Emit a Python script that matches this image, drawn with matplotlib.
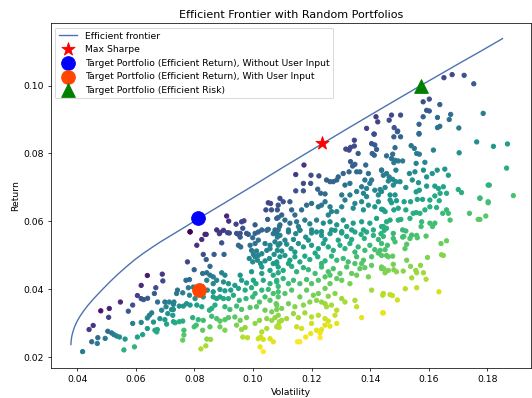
import numpy as np
import matplotlib
matplotlib.use("Agg")
import matplotlib.pyplot as plt

# efficient frontier curve (volatility, return)
frontier_vol = [0.0378, 0.0379, 0.0381, 0.0385, 0.0391, 0.0399, 0.0409, 0.0421,
                0.0436, 0.0455, 0.0480, 0.0512, 0.0540, 0.0569, 0.0597, 0.0625,
                0.0654, 0.0682, 0.0728, 0.0770, 0.0813, 0.0900, 0.1000, 0.1100,
                0.1235, 0.1330, 0.1450, 0.1573, 0.1700, 0.1780, 0.1852]
frontier_ret = [0.0238, 0.0250, 0.0262, 0.0276, 0.0291, 0.0306, 0.0321, 0.0336,
                0.0353, 0.0372, 0.0395, 0.0423, 0.0446, 0.0468, 0.0488, 0.0506,
                0.0523, 0.0539, 0.0563, 0.0585, 0.0608, 0.0653, 0.0705, 0.0758,
                0.0828, 0.0877, 0.0938, 0.1000, 0.1063, 0.1102, 0.1138]

# special portfolios
max_sharpe = (0.1235, 0.0831)
target_no_input = (0.0813, 0.0609)
target_with_input = (0.0816, 0.0397)
target_risk = (0.1573, 0.1000)

# random portfolios (volatility, return), grouped by chart region
pts_low_left = [
    (0.0639, 0.0441), (0.0690, 0.0445), (0.0692, 0.0425), (0.0618, 0.0412), (0.0668, 0.0405),
    (0.0605, 0.0382), (0.0618, 0.0373), (0.0626, 0.0370), (0.0640, 0.0374), (0.0663, 0.0388),
    (0.0547, 0.0363), (0.0589, 0.0354), (0.0574, 0.0336), (0.0509, 0.0344), (0.0480, 0.0337),
    (0.0507, 0.0318), (0.0454, 0.0294), (0.0440, 0.0282), (0.0449, 0.0246), (0.0468, 0.0241),
    (0.0470, 0.0258), (0.0495, 0.0256), (0.0504, 0.0277), (0.0517, 0.0272), (0.0525, 0.0267),
    (0.0534, 0.0263), (0.0544, 0.0260), (0.0563, 0.0254), (0.0605, 0.0260), (0.0623, 0.0267),
    (0.0589, 0.0300), (0.0618, 0.0303), (0.0639, 0.0316), (0.0646, 0.0324), (0.0654, 0.0331),
    (0.0639, 0.0285), (0.0660, 0.0304), (0.0665, 0.0280), (0.0673, 0.0282), (0.0671, 0.0275),
    (0.0674, 0.0363), (0.0699, 0.0363), (0.0714, 0.0363), (0.0728, 0.0356), (0.0703, 0.0349),
    (0.0728, 0.0341), (0.0688, 0.0339), (0.0709, 0.0329), (0.0682, 0.0314), (0.0699, 0.0311),
    (0.0705, 0.0298), (0.0728, 0.0305), (0.0726, 0.0324),
    (0.0418, 0.0217), (0.0559, 0.0222), (0.0595, 0.0231), (0.0839, 0.0234), (0.0822, 0.0225),
    (0.1024, 0.0231), (0.1035, 0.0217), (0.0760, 0.0251), (0.0764, 0.0266), (0.0842, 0.0254),
]

pts_low_mid = [
    (0.0785, 0.0569), (0.0836, 0.0562), (0.0885, 0.0564), (0.0899, 0.0574), (0.0919, 0.0566),
    (0.0950, 0.0562), (0.0956, 0.0554), (0.0984, 0.0562), (0.0999, 0.0552), (0.1018, 0.0569),
    (0.1047, 0.0574), (0.1069, 0.0564), (0.1083, 0.0554),
    (0.0825, 0.0547), (0.0808, 0.0530), (0.0893, 0.0537), (0.0950, 0.0530), (0.0958, 0.0525),
    (0.0990, 0.0530), (0.1007, 0.0535), (0.1018, 0.0545), (0.1041, 0.0535), (0.1058, 0.0530),
    (0.1075, 0.0540), (0.1092, 0.0535),
    (0.0830, 0.0503), (0.0867, 0.0503), (0.0901, 0.0503), (0.0995, 0.0515), (0.1001, 0.0503),
    (0.1007, 0.0496), (0.1018, 0.0500), (0.1030, 0.0505), (0.1047, 0.0515), (0.1058, 0.0520),
    (0.1072, 0.0503), (0.1083, 0.0515), (0.1012, 0.0513),
    (0.0776, 0.0481), (0.0840, 0.0488), (0.0853, 0.0468), (0.0987, 0.0491), (0.0999, 0.0481),
    (0.1015, 0.0486), (0.1026, 0.0476), (0.1041, 0.0484), (0.1056, 0.0491), (0.1069, 0.0476),
    (0.1081, 0.0481), (0.1030, 0.0466),
    (0.0799, 0.0458), (0.0828, 0.0447), (0.0842, 0.0449), (0.0853, 0.0442), (0.0864, 0.0437),
    (0.0893, 0.0449), (0.0904, 0.0442), (0.0956, 0.0442), (0.0995, 0.0452), (0.1030, 0.0447),
    (0.1058, 0.0456), (0.1069, 0.0442), (0.1086, 0.0449),
    (0.0742, 0.0398), (0.0771, 0.0427), (0.0783, 0.0429), (0.0842, 0.0427), (0.0864, 0.0417),
    (0.0876, 0.0427), (0.0899, 0.0422), (0.0916, 0.0417), (0.0938, 0.0412), (0.0961, 0.0427),
    (0.0978, 0.0419), (0.1001, 0.0427), (0.1010, 0.0417), (0.1035, 0.0427), (0.1058, 0.0417),
    (0.1081, 0.0422), (0.1086, 0.0409),
    (0.0739, 0.0388), (0.0760, 0.0390), (0.0779, 0.0405), (0.0796, 0.0407), (0.0825, 0.0409),
    (0.0844, 0.0398), (0.0864, 0.0393), (0.0887, 0.0400), (0.0904, 0.0396), (0.0924, 0.0398),
    (0.0950, 0.0403), (0.0973, 0.0398), (0.0995, 0.0405), (0.1007, 0.0388), (0.1030, 0.0398),
    (0.1052, 0.0400), (0.1069, 0.0388),
    (0.0730, 0.0363), (0.0748, 0.0351), (0.0773, 0.0358), (0.0783, 0.0383), (0.0802, 0.0373),
    (0.0830, 0.0378), (0.0864, 0.0378), (0.0876, 0.0373), (0.0887, 0.0378), (0.0899, 0.0373),
    (0.0916, 0.0373), (0.0933, 0.0383), (0.0953, 0.0368), (0.0976, 0.0373), (0.0999, 0.0378),
    (0.1022, 0.0363), (0.1041, 0.0378), (0.1058, 0.0368), (0.1079, 0.0358), (0.1086, 0.0378),
    (0.0722, 0.0341), (0.0762, 0.0351), (0.0785, 0.0354), (0.0808, 0.0354), (0.0825, 0.0349),
    (0.0851, 0.0339), (0.0859, 0.0344), (0.0870, 0.0354), (0.0904, 0.0349), (0.0921, 0.0341),
    (0.0944, 0.0351), (0.0961, 0.0341), (0.0990, 0.0347), (0.1012, 0.0349), (0.1041, 0.0339),
    (0.1064, 0.0334), (0.1081, 0.0341),
    (0.0734, 0.0302), (0.0748, 0.0305), (0.0760, 0.0307), (0.0794, 0.0317), (0.0813, 0.0311),
    (0.0830, 0.0309), (0.0859, 0.0321), (0.0876, 0.0314), (0.0887, 0.0307), (0.0904, 0.0311),
    (0.0916, 0.0317), (0.0938, 0.0319), (0.0956, 0.0309), (0.0978, 0.0317), (0.1007, 0.0300),
    (0.1022, 0.0309), (0.1047, 0.0314), (0.1064, 0.0309), (0.1075, 0.0317), (0.1090, 0.0305),
    (0.0764, 0.0280), (0.0799, 0.0290), (0.0806, 0.0295), (0.0828, 0.0280), (0.0853, 0.0290),
    (0.0887, 0.0290), (0.0904, 0.0280), (0.0944, 0.0295), (0.0961, 0.0282), (0.0973, 0.0288),
    (0.1030, 0.0275), (0.1047, 0.0285), (0.1081, 0.0290),
    (0.0855, 0.0253), (0.0965, 0.0260), (0.0981, 0.0258), (0.1018, 0.0255), (0.1026, 0.0260),
    (0.1035, 0.0253), (0.1058, 0.0255), (0.1069, 0.0246),
]

pts_low_right = [
    (0.1092, 0.0559), (0.1121, 0.0569), (0.1146, 0.0564), (0.1160, 0.0574), (0.1180, 0.0554),
    (0.1200, 0.0566), (0.1217, 0.0569), (0.1234, 0.0559), (0.1263, 0.0564), (0.1280, 0.0574),
    (0.1303, 0.0566), (0.1320, 0.0556), (0.1348, 0.0569), (0.1369, 0.0562), (0.1388, 0.0569),
    (0.1411, 0.0559), (0.1437, 0.0564), (0.1109, 0.0545), (0.1138, 0.0547), (0.1189, 0.0545),
    (0.1246, 0.0547), (0.1291, 0.0545), (0.1337, 0.0547), (0.1380, 0.0550), (0.1428, 0.0547),
    (0.1086, 0.0530), (0.1115, 0.0533), (0.1130, 0.0520), (0.1155, 0.0535), (0.1172, 0.0525),
    (0.1200, 0.0530), (0.1223, 0.0520), (0.1240, 0.0535), (0.1257, 0.0525), (0.1274, 0.0515),
    (0.1297, 0.0530), (0.1314, 0.0520), (0.1331, 0.0535), (0.1359, 0.0525), (0.1382, 0.0515),
    (0.1399, 0.0530), (0.1416, 0.0517), (0.1439, 0.0535), (0.1098, 0.0513), (0.1143, 0.0510),
    (0.1212, 0.0507), (0.1348, 0.0510), (0.1428, 0.0507),
    (0.1092, 0.0496), (0.1109, 0.0500), (0.1126, 0.0486), (0.1143, 0.0496), (0.1160, 0.0481),
    (0.1177, 0.0498), (0.1194, 0.0488), (0.1221, 0.0496), (0.1246, 0.0484), (0.1268, 0.0498),
    (0.1286, 0.0486), (0.1308, 0.0491), (0.1325, 0.0481), (0.1354, 0.0496), (0.1377, 0.0486),
    (0.1405, 0.0496), (0.1439, 0.0500), (0.1081, 0.0476), (0.1121, 0.0476), (0.1234, 0.0476),
    (0.1371, 0.0476),
    (0.1086, 0.0466), (0.1103, 0.0456), (0.1132, 0.0468), (0.1149, 0.0452), (0.1172, 0.0464),
    (0.1189, 0.0458), (0.1212, 0.0447), (0.1234, 0.0466), (0.1257, 0.0452), (0.1274, 0.0461),
    (0.1297, 0.0447), (0.1320, 0.0466), (0.1348, 0.0476), (0.1365, 0.0461), (0.1382, 0.0464),
    (0.1405, 0.0471), (0.1439, 0.0461), (0.1337, 0.0447),
    (0.1081, 0.0427), (0.1103, 0.0432), (0.1121, 0.0417), (0.1138, 0.0427), (0.1160, 0.0417),
    (0.1183, 0.0429), (0.1200, 0.0417), (0.1223, 0.0427), (0.1246, 0.0437), (0.1263, 0.0417),
    (0.1286, 0.0432), (0.1303, 0.0427), (0.1331, 0.0417), (0.1354, 0.0442), (0.1263, 0.0442),
    (0.1394, 0.0437), (0.1405, 0.0398),
    (0.1086, 0.0393), (0.1109, 0.0388), (0.1132, 0.0398), (0.1160, 0.0378), (0.1183, 0.0398),
    (0.1206, 0.0383), (0.1223, 0.0388), (0.1246, 0.0403), (0.1257, 0.0380), (0.1280, 0.0388),
    (0.1303, 0.0373), (0.1314, 0.0363), (0.1348, 0.0368), (0.1445, 0.0388),
    (0.1081, 0.0354), (0.1098, 0.0344), (0.1121, 0.0358), (0.1143, 0.0349), (0.1172, 0.0354),
    (0.1194, 0.0363), (0.1217, 0.0368), (0.1234, 0.0363), (0.1246, 0.0358), (0.1251, 0.0349),
    (0.1268, 0.0354), (0.1286, 0.0339), (0.1354, 0.0349),
    (0.1086, 0.0324), (0.1098, 0.0309), (0.1115, 0.0314), (0.1138, 0.0329), (0.1155, 0.0317),
    (0.1177, 0.0331), (0.1200, 0.0319), (0.1223, 0.0324), (0.1246, 0.0314), (0.1257, 0.0307),
    (0.1280, 0.0324), (0.1445, 0.0331), (0.1371, 0.0317),
    (0.1086, 0.0295), (0.1089, 0.0288), (0.1149, 0.0290), (0.1166, 0.0285), (0.1200, 0.0300),
    (0.1217, 0.0280), (0.1234, 0.0282), (0.1246, 0.0295), (0.1263, 0.0292), (0.1286, 0.0300),
    (0.1180, 0.0260), (0.1152, 0.0246), (0.1160, 0.0246), (0.1197, 0.0270), (0.1229, 0.0258),
    (0.1229, 0.0272),
    (0.1448, 0.0574), (0.1445, 0.0556), (0.1479, 0.0550), (0.1485, 0.0540), (0.1511, 0.0554),
    (0.1515, 0.0556), (0.1536, 0.0550), (0.1559, 0.0559), (0.1561, 0.0552), (0.1591, 0.0557),
    (0.1642, 0.0535), (0.1661, 0.0543), (0.1459, 0.0530), (0.1525, 0.0533), (0.1519, 0.0520),
    (0.1434, 0.0515), (0.1451, 0.0517), (0.1456, 0.0500), (0.1462, 0.0496), (0.1477, 0.0498),
    (0.1479, 0.0474), (0.1525, 0.0486), (0.1538, 0.0468), (0.1572, 0.0471), (0.1596, 0.0494),
    (0.1644, 0.0502), (0.1650, 0.0500), (0.1439, 0.0466), (0.1447, 0.0461), (0.1462, 0.0456),
    (0.1451, 0.0449), (0.1481, 0.0458), (0.1490, 0.0452), (0.1513, 0.0454), (0.1556, 0.0456),
    (0.1559, 0.0449), (0.1582, 0.0449), (0.1542, 0.0434), (0.1591, 0.0430), (0.1520, 0.0402),
    (0.1559, 0.0405), (0.1635, 0.0393), (0.1443, 0.0383), (0.1468, 0.0385), (0.1476, 0.0382),
    (0.1493, 0.0369), (0.1443, 0.0331),
]

pts_upper_mid = [
    (0.1052, 0.0655), (0.1060, 0.0653), (0.1044, 0.0634), (0.1063, 0.0634), (0.1083, 0.0634),
    (0.1092, 0.0668), (0.0910, 0.0616), (0.0917, 0.0601), (0.0942, 0.0592), (0.0961, 0.0599),
    (0.0969, 0.0602), (0.0965, 0.0580), (0.1007, 0.0590), (0.1030, 0.0575), (0.1052, 0.0577),
    (0.1086, 0.0612), (0.1090, 0.0585), (0.1075, 0.0575), (0.1081, 0.0565), (0.0785, 0.0570),
    (0.0840, 0.0562), (0.0876, 0.0575), (0.0887, 0.0568), (0.0913, 0.0567), (0.0944, 0.0565),
    (0.0956, 0.0565), (0.0978, 0.0565), (0.1050, 0.0606), (0.1007, 0.0565),
    (0.1346, 0.0839), (0.1346, 0.0822), (0.1333, 0.0818), (0.1328, 0.0810), (0.1317, 0.0813),
    (0.1359, 0.0800), (0.1333, 0.0776), (0.1348, 0.0768), (0.1340, 0.0763), (0.1328, 0.0746),
    (0.1308, 0.0741), (0.1291, 0.0731), (0.1286, 0.0722), (0.1274, 0.0717), (0.1251, 0.0722),
    (0.1263, 0.0717), (0.1225, 0.0734), (0.1198, 0.0736), (0.1174, 0.0766), (0.1146, 0.0738),
    (0.1172, 0.0712), (0.1197, 0.0712), (0.1146, 0.0690), (0.1172, 0.0690), (0.1221, 0.0695),
    (0.1231, 0.0683), (0.1246, 0.0681), (0.1414, 0.0857), (0.1405, 0.0829), (0.1416, 0.0825),
    (0.1422, 0.0812), (0.1414, 0.0795), (0.1407, 0.0800), (0.1354, 0.0746), (0.1385, 0.0766),
    (0.1394, 0.0741), (0.1365, 0.0746), (0.1382, 0.0722), (0.1371, 0.0702), (0.1388, 0.0697),
    (0.1399, 0.0712), (0.1405, 0.0722), (0.1439, 0.0751), (0.1445, 0.0736), (0.1314, 0.0707),
    (0.1331, 0.0712), (0.1303, 0.0678), (0.1331, 0.0678), (0.1354, 0.0688), (0.1377, 0.0683),
    (0.1388, 0.0673), (0.1416, 0.0692), (0.1428, 0.0678), (0.1439, 0.0688),
    (0.1086, 0.0648), (0.1103, 0.0658), (0.1126, 0.0658), (0.1132, 0.0634), (0.1098, 0.0619),
    (0.1143, 0.0619), (0.1166, 0.0634), (0.1183, 0.0648), (0.1200, 0.0653), (0.1223, 0.0643),
    (0.1234, 0.0648), (0.1246, 0.0658), (0.1263, 0.0643), (0.1268, 0.0629), (0.1257, 0.0619),
    (0.1286, 0.0629), (0.1303, 0.0643), (0.1314, 0.0663), (0.1342, 0.0639), (0.1348, 0.0653),
    (0.1371, 0.0658), (0.1377, 0.0634), (0.1394, 0.0648), (0.1416, 0.0643), (0.1428, 0.0658),
    (0.1445, 0.0634), (0.1081, 0.0609), (0.1092, 0.0590), (0.1109, 0.0604), (0.1126, 0.0595),
    (0.1149, 0.0599), (0.1155, 0.0585), (0.1177, 0.0604), (0.1194, 0.0593), (0.1217, 0.0604),
    (0.1240, 0.0595), (0.1263, 0.0599), (0.1286, 0.0590), (0.1308, 0.0604), (0.1320, 0.0585),
    (0.1342, 0.0595), (0.1371, 0.0599), (0.1399, 0.0595), (0.1422, 0.0609), (0.1439, 0.0585),
    (0.1086, 0.0575), (0.1121, 0.0575), (0.1160, 0.0575), (0.1200, 0.0575), (0.1234, 0.0570),
    (0.1268, 0.0575), (0.1303, 0.0570), (0.1337, 0.0575), (0.1377, 0.0575), (0.1411, 0.0575),
]

pts_upper_right = [
    (0.1481, 0.0849), (0.1504, 0.0849), (0.1493, 0.0864), (0.1567, 0.0857), (0.1485, 0.0817),
    (0.1540, 0.0823), (0.1551, 0.0815), (0.1559, 0.0800), (0.1568, 0.0798), (0.1456, 0.0793),
    (0.1477, 0.0798), (0.1473, 0.0785), (0.1485, 0.0780), (0.1496, 0.0778), (0.1511, 0.0778),
    (0.1481, 0.0773), (0.1616, 0.0810), (0.1704, 0.0802), (0.1764, 0.0834), (0.1557, 0.0771),
    (0.1587, 0.0774), (0.1439, 0.0751), (0.1456, 0.0741), (0.1488, 0.0751), (0.1534, 0.0741),
    (0.1553, 0.0746), (0.1582, 0.0751), (0.1612, 0.0741), (0.1629, 0.0751), (0.1655, 0.0754),
    (0.1667, 0.0736), (0.1465, 0.0731), (0.1477, 0.0724), (0.1462, 0.0719), (0.1488, 0.0717),
    (0.1502, 0.0717), (0.1544, 0.0722), (0.1565, 0.0714), (0.1593, 0.0731), (0.1434, 0.0694),
    (0.1451, 0.0700), (0.1479, 0.0707), (0.1522, 0.0700), (0.1557, 0.0687), (0.1568, 0.0692),
    (0.1593, 0.0704), (0.1621, 0.0704), (0.1633, 0.0697), (0.1639, 0.0683), (0.1650, 0.0702),
    (0.1661, 0.0683), (0.1701, 0.0694), (0.1712, 0.0685), (0.1775, 0.0668), (0.1803, 0.0707),
    (0.1803, 0.0658), (0.1468, 0.0678), (0.1485, 0.0678), (0.1468, 0.0663), (0.1473, 0.0655),
    (0.1490, 0.0661), (0.1516, 0.0658), (0.1538, 0.0658), (0.1561, 0.0665), (0.1579, 0.0665),
    (0.1604, 0.0663), (0.1621, 0.0675), (0.1636, 0.0661), (0.1604, 0.0643), (0.1627, 0.0641),
    (0.1661, 0.0634), (0.1667, 0.0624), (0.1673, 0.0604), (0.1648, 0.0624), (0.1739, 0.0624),
    (0.1769, 0.0606), (0.1439, 0.0636), (0.1451, 0.0629), (0.1481, 0.0634), (0.1496, 0.0639),
    (0.1522, 0.0634), (0.1547, 0.0624), (0.1557, 0.0626), (0.1570, 0.0624), (0.1587, 0.0634),
    (0.1468, 0.0604), (0.1456, 0.0599), (0.1496, 0.0604), (0.1505, 0.0606), (0.1536, 0.0609),
    (0.1576, 0.0599), (0.1604, 0.0595), (0.1613, 0.0585), (0.1621, 0.0595), (0.1445, 0.0585),
    (0.1456, 0.0580), (0.1511, 0.0575), (0.1522, 0.0572), (0.1574, 0.0585), (0.1479, 0.0565),
    (0.1542, 0.0560),
    (0.1652, 0.1023), (0.1680, 0.1032), (0.1721, 0.1030), (0.1754, 0.1005), (0.1581, 0.0952),
    (0.1602, 0.0960), (0.1638, 0.0944), (0.1593, 0.0927), (0.1602, 0.0925), (0.1581, 0.0908),
    (0.1630, 0.0906), (0.1675, 0.0915), (0.1670, 0.0900), (0.1786, 0.0918), (0.1420, 0.0908),
    (0.1426, 0.0893), (0.1473, 0.0913), (0.1504, 0.0913), (0.1465, 0.0898), (0.1388, 0.0874),
    (0.1413, 0.0857), (0.1482, 0.0876), (0.1494, 0.0866), (0.1567, 0.0886), (0.1567, 0.0859),
    (0.1630, 0.0876), (0.1638, 0.0880), (0.1703, 0.0875),
    (0.1821, 0.0821), (0.1869, 0.0828), (0.1866, 0.0757), (0.1807, 0.0707), (0.1775, 0.0669),
    (0.1803, 0.0655), (0.1889, 0.0676), (0.1795, 0.0616), (0.1775, 0.0606),
]

all_pts = np.array(pts_low_left + pts_low_mid + pts_low_right + pts_upper_mid + pts_upper_right)
port_vol = all_pts[:, 0]
port_ret = all_pts[:, 1]
port_sharpe = port_ret / port_vol

# original was an 8x6 inch figure, shown at 532x398
fig, ax = plt.subplots(figsize=(8, 5.99))
fig.subplots_adjust(left=0.0953, right=0.999, bottom=0.0746, top=0.9415)

ax.scatter(port_vol, port_ret, c=port_sharpe, cmap="viridis_r", s=22, marker="o")
ax.plot(frontier_vol, frontier_ret, color="#4C72B0", linewidth=1.5, label="Efficient frontier")
ax.scatter(*max_sharpe, marker="*", color="red", s=220, zorder=3, label="Max Sharpe")
ax.scatter(*target_no_input, marker="o", color="blue", s=220, zorder=3,
           label="Target Portfolio (Efficient Return), Without User Input")
ax.scatter(*target_with_input, marker="o", color="orangered", s=220, zorder=3,
           label="Target Portfolio (Efficient Return), With User Input")
ax.scatter(*target_risk, marker="^", color="green", s=220, zorder=3,
           label="Target Portfolio (Efficient Risk)")

ax.set_xlim(0.0309, 0.1951)
ax.set_ylim(0.0168, 0.1184)
ax.set_title("Efficient Frontier with Random Portfolios")
ax.set_xlabel("Volatility")
ax.set_ylabel("Return")
ax.legend(loc="upper left")

fig.savefig("out.png", dpi=66.5)
